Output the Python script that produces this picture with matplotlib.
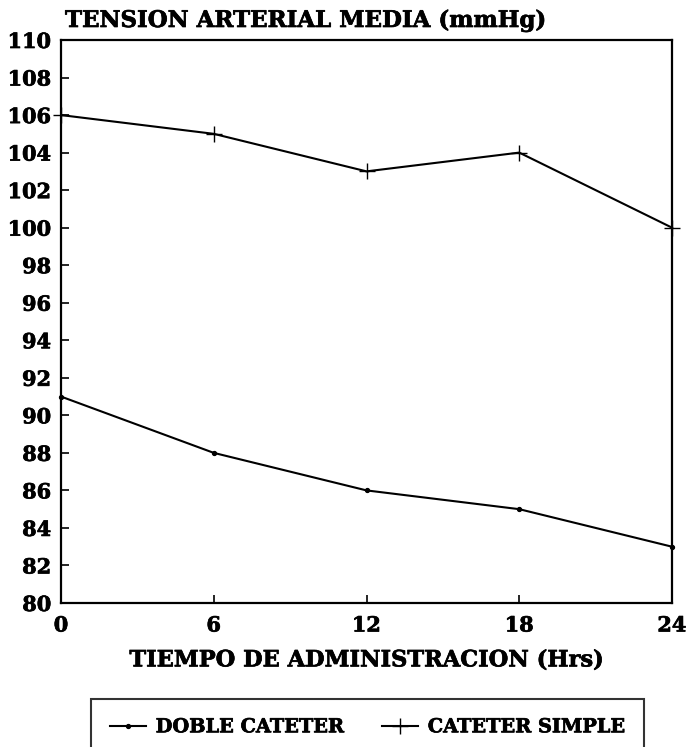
import matplotlib
matplotlib.use("Agg")
import matplotlib.pyplot as plt
import matplotlib.patheffects as pe

hours = [0, 6, 12, 18, 24]
doble_cateter = [91, 88, 86, 85, 83]
cateter_simple = [106, 105, 103, 104, 100]
y_ticks = list(range(80, 111, 2))
x_ticks = [0, 6, 12, 18, 24]

title = "TENSION ARTERIAL MEDIA (mmHg)"
xlabel = "TIEMPO DE ADMINISTRACION (Hrs)"
labels = ["DOBLE CATETER", "CATETER SIMPLE"]

plt.rcParams['font.family'] = ['DejaVu Serif']
plt.rcParams['font.weight'] = 'bold'

heavy = [pe.withStroke(linewidth=0.5, foreground='black')]

W, H = 687, 747
fig = plt.figure(figsize=(W / 100, H / 100), dpi=100)
ax = fig.add_axes([61 / W, 1 - 603 / H, (672 - 61) / W, (603 - 40) / H])

ax.plot(hours, doble_cateter, color='black', lw=1.5, marker='o', markersize=2.8,
        label=labels[0], clip_on=False)
ax.plot(hours, cateter_simple, color='black', lw=1.5, marker='+', markersize=12,
        markeredgewidth=1.0, label=labels[1], clip_on=False)

ax.set_xlim(0, 24)
ax.set_ylim(80, 110)
ax.set_xticks(x_ticks)
ax.set_yticks(y_ticks)
ax.tick_params(direction='in', length=6, width=1.2, labelsize=15, pad=7)
ax.tick_params(axis='x', pad=9)
for lab in ax.get_xticklabels() + ax.get_yticklabels():
    lab.set_fontweight('bold')
    lab.set_path_effects(heavy)
for s in ax.spines.values():
    s.set_linewidth(1.6)

xl = ax.set_xlabel(xlabel, fontsize=16.2, fontweight='bold', labelpad=10)
xl.set_path_effects(heavy)
t = fig.text(65 / W, 1 - 27 / H, title, fontsize=16.5, fontweight='bold', ha='left', va='baseline')
t.set_path_effects(heavy)

leg = fig.legend(loc='upper left', bbox_to_anchor=(91 / W, 1 - 699 / H), borderaxespad=0,
                 ncol=2, frameon=True, fancybox=False, edgecolor='black',
                 borderpad=1.0, handlelength=1.85, handletextpad=0.5, columnspacing=2.0,
                 prop={'weight': 'bold', 'size': 13.9})
leg.get_frame().set_linewidth(1.5)
for txt in leg.get_texts():
    txt.set_path_effects(heavy)
for h in leg.legend_handles:
    if h.get_marker() == '+':
        h.set_markersize(11)

fig.savefig("out.png", dpi=100, facecolor='white')
